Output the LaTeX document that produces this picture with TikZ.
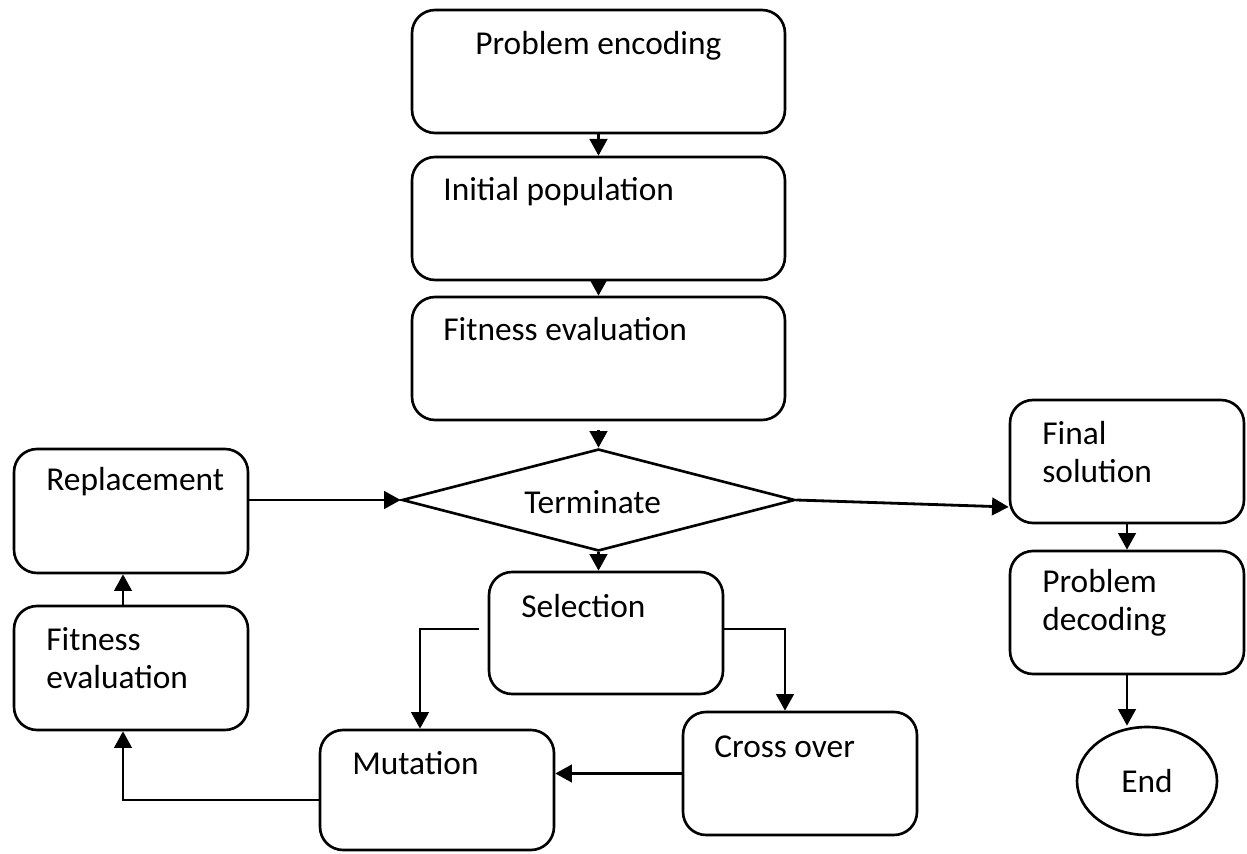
\documentclass[tikz,border=0pt]{standalone}
\usepackage{fontspec}
\setmainfont{Carlito}
\usetikzlibrary{shapes.geometric,arrows.meta}

\begin{document}
\begin{tikzpicture}[
        x=0.02cm, y=-0.02cm,
        box/.style={
            draw,
            rounded corners=0.46cm,
            line width=1.5pt,
            minimum width=4.68cm,
            minimum height=2.46cm
        },
        widebox/.style={box, minimum width=7.46cm},
        txt/.style={
            anchor=base west,
            inner sep=0pt,
            align=left,
            font=\fontsize{19}{21.6}\selectfont
        },
        arrow/.style={-{Triangle[length=9.5pt,width=10pt]}, line width=1.6pt}
    ]
    \useasboundingbox (0,0) rectangle (1247,854);

    % =========================
    % Main column
    % =========================
    \node[widebox] (enc)  at (598.5,71.5)  {};
    \node[widebox] (init) at (598.5,218.5) {};
    \node[widebox] (fit)  at (598.5,358.5) {};
    \node[draw, diamond, aspect=3.85, inner sep=0pt, line width=1.5pt,
          minimum width=7.86cm, minimum height=2.04cm] (term) at (598.5,500) {};

    \node[txt] (enc-t)  at (475,55)  {Problem encoding};
    \node[txt] (init-t) at (443,201) {Initial population};
    \node[txt] (fit-t)  at (443,341) {Fitness evaluation};
    \node[txt] (term-t) at (524,513) {Terminate};

    \draw[arrow] (enc) -- (init);
    \draw[arrow] (init) -- (fit);
    \draw[arrow, shorten <=5pt] (fit) -- (term);

    % =========================
    % Loop
    % =========================
    \node[box, minimum height=2.44cm] (sel) at (606,633)   {};
    \node[box, minimum height=2.4cm]  (mut) at (437,790)   {};
    \node[box]                        (cro) at (800,773.5) {};
    \node[box, minimum height=2.48cm] (fev) at (131,668)   {};
    \node[box, minimum height=2.48cm] (rep) at (131,511)   {};

    \node[txt] (sel-t) at (521,617)  {Selection};
    \node[txt] (mut-t) at (352,774)  {Mutation};
    \node[txt] (cro-t) at (714,757)  {Cross over};
    \node[txt] (fev-t) at (46,688)   {Fitness\\evaluation};
    \node[txt] (rep-t) at (46,491)   {Replacement};

    \draw[arrow] (term.south) -- (term.south |- sel.north);
    \draw[arrow] ([xshift=-0.18cm,yshift=0.08cm]sel.west) -| ([xshift=-0.34cm]mut.north);
    \draw[arrow] ([yshift=0.08cm]sel.east) -| ([xshift=-0.3cm]cro.north);
    \draw[arrow] (cro.west) -- (mut.east |- cro.west);
    \draw[arrow] ([yshift=-0.2cm]mut.west) -| ([xshift=-0.16cm]fev.south);
    \draw[arrow] ([xshift=-0.16cm]fev.north) -- ([xshift=-0.16cm]rep.south);
    \draw[arrow] (rep.east |- term.west) -- (term.west);

    % =========================
    % Exit
    % =========================
    \node[box] (fin) at (1127,461.5) {};
    \node[box] (dec) at (1127,612.5) {};
    \node[draw, ellipse, line width=1.5pt, minimum width=2.8cm, minimum height=2.16cm,
          font=\fontsize{19}{21.6}\selectfont] (fine) at (1147,781) {End};

    \node[txt] (fin-t) at (1042,482) {Final\\solution};
    \node[txt] (dec-t) at (1042,630) {Problem\\decoding};

    \draw[arrow] (term.east) -- ([yshift=-0.91cm]fin.west);
    \draw[arrow] (fin) -- (dec);
    \draw[arrow] (dec.south) -- (dec.south |- fine.north);

    \end{tikzpicture}
\end{document}
